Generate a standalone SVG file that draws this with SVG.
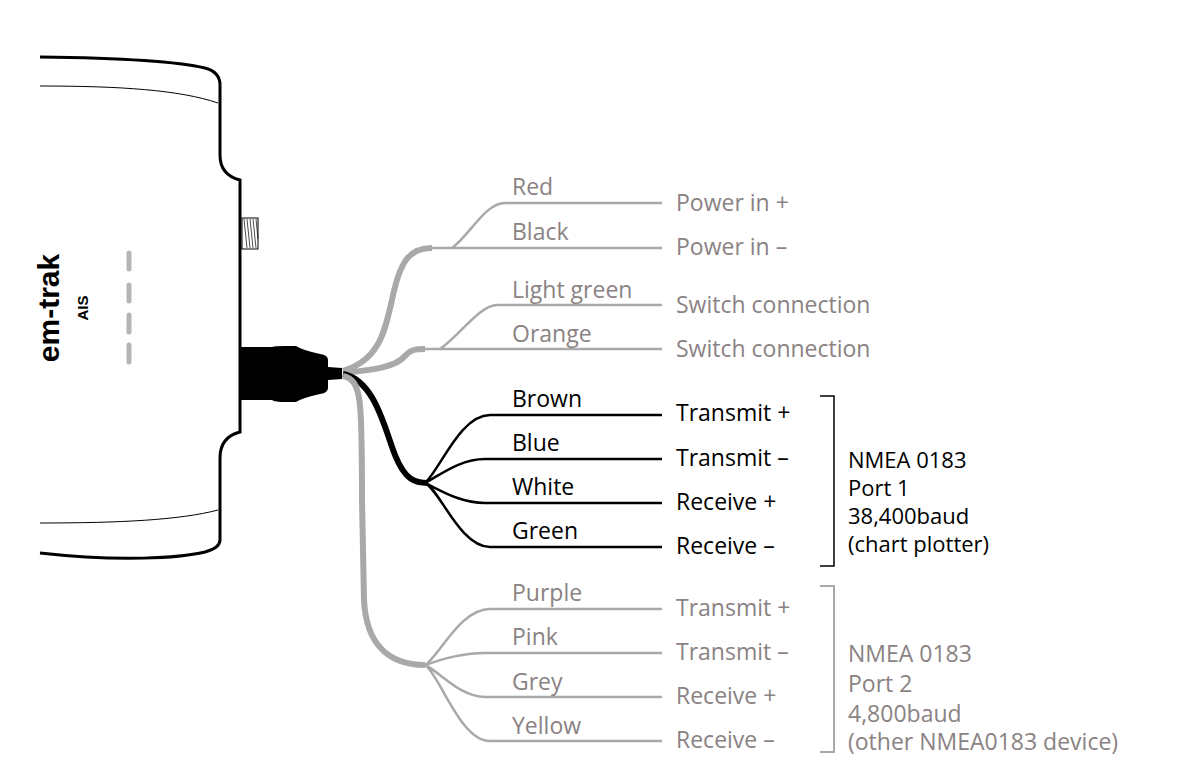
<svg xmlns="http://www.w3.org/2000/svg" width="1200" height="773" viewBox="0 0 1200 773">
<style>
.t{font-family:"Open Sans","Liberation Sans",sans-serif;font-size:23px}
.p{font-size:22px}
.g{fill:#8a8283}.k{fill:#000}
.wg{fill:none;stroke:#a9a9ab;stroke-width:2.5}
.wk{fill:none;stroke:#000;stroke-width:2.5}
.tg{fill:none;stroke:#a9a9ab;stroke-width:6}
.tk{fill:none;stroke:#000;stroke-width:6}
</style>
<rect width="1200" height="773" fill="#fff"/>
<g id="device">
<path d="M40,57 C120,58 180,62 205,68 Q220,72 220,85 L220,155 Q220,175 240,180 L240,432 Q220,437 220,458 L220,540 Q220,548 205,552 C180,558 120,562 40,553" fill="none" stroke="#000" stroke-width="3"/>
<path d="M40,86 C120,86 180,90 218,103" fill="none" stroke="#000" stroke-width="1"/>
<path d="M40,523 C120,523 180,520 218,510" fill="none" stroke="#000" stroke-width="1"/>
<rect x="242" y="218" width="16" height="31" fill="#fff" stroke="#000" stroke-width="1"/>
<path d="M244,219 l3,29 M247,219 l3,29 M250,219 l3,29 M253,219 l3,29 M256,219 l2,20" stroke="#000" stroke-width="0.7"/>
<g stroke="#b5b5b5" stroke-width="5" stroke-linecap="round">
<line x1="129" y1="253" x2="129" y2="269"/><line x1="129" y1="285" x2="129" y2="301"/><line x1="129" y1="315" x2="129" y2="332"/><line x1="129" y1="345" x2="129" y2="362"/>
</g>
<text transform="translate(59,308) rotate(-90)" text-anchor="middle" font-family="Liberation Sans,sans-serif" font-weight="bold" font-size="30" fill="#000">em-trak</text>
<text transform="translate(88,308) rotate(-90)" text-anchor="middle" font-family="Liberation Sans,sans-serif" font-weight="bold" font-size="15" fill="#000">AIS</text>
<path d="M240,347 L272,347 Q275,346 285,346 L296,346 Q302,350 320,354 Q328,355 328,360 L328,367 L342,368 L342,379 L328,380 L328,388 Q328,393 320,394 Q302,398 296,402 L285,402 Q275,402 272,400 L240,400 Z" fill="#000"/>
</g>
<g id="connectors">
<path class="tg" d="M343,371 C380,360 385,330 392,300 C400,260 410,248 432,248"/>
<path class="tg" d="M343,373 C370,370 395,368 405,356 C410,350 415,349 425,349"/>
<path class="tk" d="M343,374 C375,380 385,430 395,455 C405,480 415,483 428,483"/>
<path class="tg" d="M343,376 C362,380 362,400 362,500 L364,600 C366,640 385,665 425,665"/>
<path class="wg" d="M430,248 L452,248 L662,248 M452,248 C470,235 485,203 505,203 L662,203"/>
<path class="wg" d="M420,349 L662,349 M440,349 C460,335 480,305 497,305 L662,305"/>
<path class="wk" d="M425,483 C440,470 460,415 490,415 L662,415 M425,483 C440,475 460,459 485,459 L662,459 M425,483 C440,490 460,503 485,503 L662,503 M425,483 C440,490 460,547 490,547 L662,547"/>
<path class="wg" d="M425,665 C440,655 460,609 490,609 L662,609 M425,665 C440,660 460,653 485,653 L662,653 M425,665 C440,672 460,697 485,697 L662,697 M425,665 C440,675 460,741 490,741 L662,741"/>
<path d="M820,396 L834,396 L834,566 L820,566" fill="none" stroke="#000" stroke-width="1.5"/>
<path d="M820,586 L834,586 L834,752 L820,752" fill="none" stroke="#a9a9ab" stroke-width="2"/>
</g>
<g id="labels">
<text class="t g" x="512" y="195">Red</text>
<text class="t g" x="512" y="240">Black</text>
<text class="t g" x="512" y="298">Light green</text>
<text class="t g" x="512" y="342">Orange</text>
<text class="t k" x="512" y="407">Brown</text>
<text class="t k" x="512" y="451">Blue</text>
<text class="t k" x="512" y="495">White</text>
<text class="t k" x="512" y="539">Green</text>
<text class="t g" x="512" y="601">Purple</text>
<text class="t g" x="512" y="645">Pink</text>
<text class="t g" x="512" y="690">Grey</text>
<text class="t g" x="512" y="734">Yellow</text>
<text class="t g" x="676" y="211">Power in +</text>
<text class="t g" x="676" y="255">Power in –</text>
<text class="t g" x="676" y="313">Switch connection</text>
<text class="t g" x="676" y="357">Switch connection</text>
<text class="t k" x="676" y="421">Transmit +</text>
<text class="t k" x="676" y="466">Transmit –</text>
<text class="t k" x="676" y="510">Receive +</text>
<text class="t k" x="676" y="554">Receive –</text>
<text class="t g" x="676" y="616">Transmit +</text>
<text class="t g" x="676" y="660">Transmit –</text>
<text class="t g" x="676" y="704">Receive +</text>
<text class="t g" x="676" y="748">Receive –</text>
<text class="t p k" x="848" y="468">NMEA 0183</text>
<text class="t p k" x="848" y="496">Port 1</text>
<text class="t p k" x="848" y="524">38,400baud</text>
<text class="t p k" x="848" y="552">(chart plotter)</text>
<text class="t g" x="848" y="662">NMEA 0183</text>
<text class="t g" x="848" y="692">Port 2</text>
<text class="t g" x="848" y="722">4,800baud</text>
<text class="t g" x="848" y="750">(other NMEA0183 device)</text>
</g>
</svg>
